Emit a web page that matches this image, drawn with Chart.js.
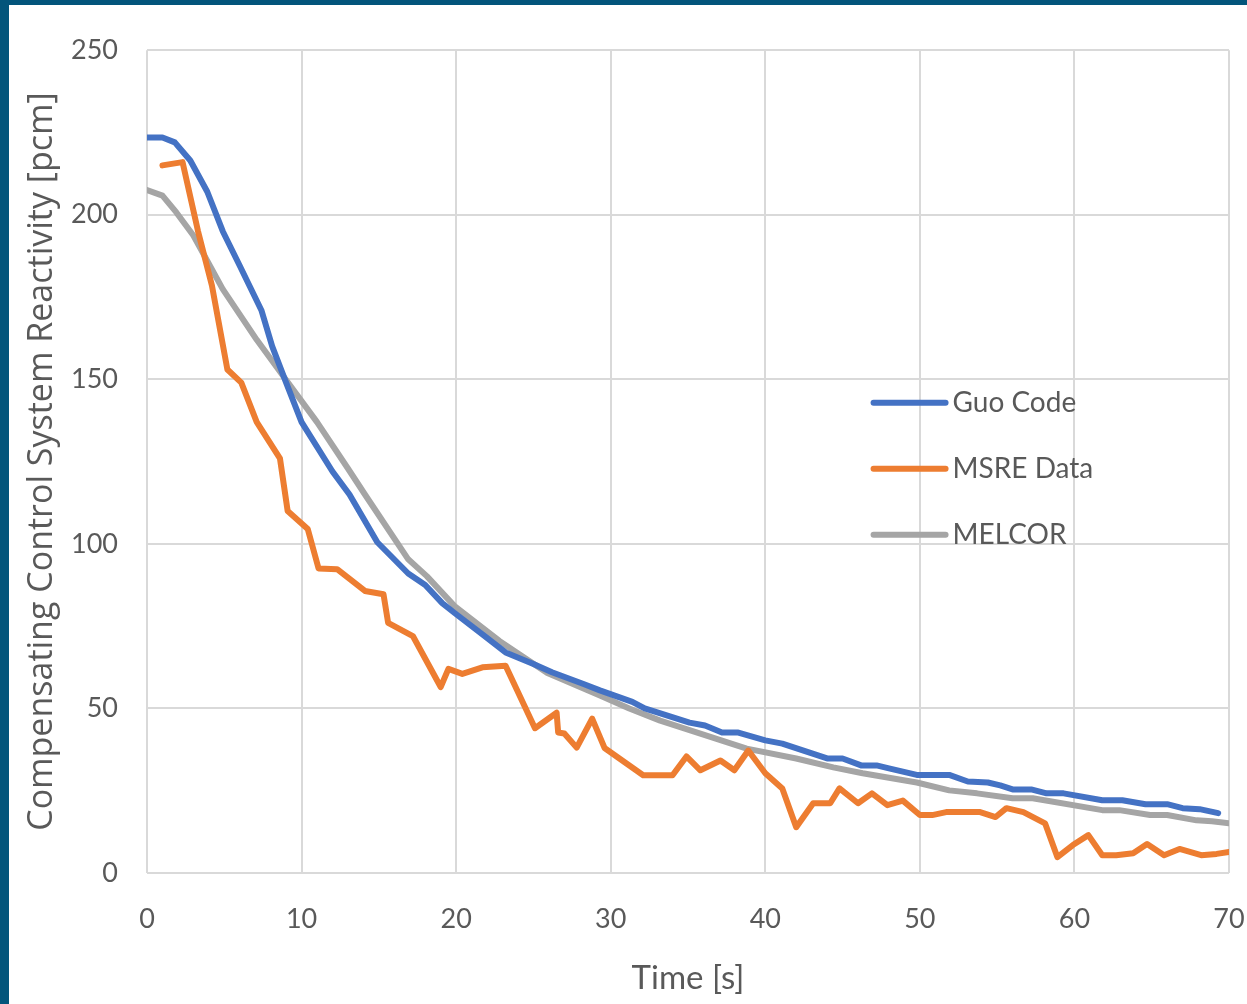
<!DOCTYPE html>
<html>
<head>
<meta charset="utf-8">
<script src="https://cdn.jsdelivr.net/npm/chart.js@4.4.0/dist/chart.umd.min.js"></script>
<style>
  html, body { margin: 0; padding: 0; background: #03557b; overflow: hidden; }
  #frame {
    position: absolute; left: 9px; top: 5px;
    width: 1238px; height: 999px; background: #ffffff; overflow: hidden;
  }
</style>
</head>
<body>
<div id="frame"><canvas id="reactChart" width="1268" height="999"></canvas></div>
<script>
// Compensating control system reactivity [pcm] vs time [s]
const guoTime = [0, 1, 1.8, 2.8, 3.9, 4.9, 6, 7.4, 8.1, 9, 10, 12, 13.1, 14.9, 16.9, 18, 19.1, 19.9, 21.7, 23.2, 25, 26.2, 28.2, 29.3, 31.4, 32.2, 35.1, 36.1, 37.2, 38.2, 40, 41.1, 44, 45, 46.2, 47.2, 48, 49.8, 51.9, 53.1, 54.4, 55.2, 56, 57.2, 58.2, 59.3, 61.8, 63.1, 64.6, 66, 67, 68.1, 69.3];
const guoValues = [223.5, 223.5, 222, 216.5, 207, 195, 184.5, 171, 160, 149, 137, 122, 115, 100.5, 91, 87.5, 82, 79, 72.5, 67, 63.5, 61, 57.5, 55.5, 52, 50, 45.7, 44.8, 42.7, 42.7, 40.3, 39.3, 34.8, 34.8, 32.7, 32.7, 31.8, 29.8, 29.8, 27.8, 27.5, 26.6, 25.4, 25.4, 24.2, 24.2, 22.1, 22.1, 20.9, 20.9, 19.7, 19.4, 18.2];

const msreTime = [1, 2.3, 3.3, 4.2, 5.2, 6.1, 7.1, 8.6, 9.1, 10.4, 11.1, 12.3, 14.1, 15.3, 15.6, 17.2, 19, 19.5, 20.4, 21.7, 23.2, 25.1, 26.5, 26.6, 27, 27.8, 28.8, 29.6, 32.1, 34, 34.9, 35.8, 37.1, 38, 38.9, 40, 41.1, 42, 43.1, 44.2, 44.8, 46, 46.9, 47.9, 48.9, 50, 50.8, 51.7, 53.9, 54.9, 55.6, 56.7, 58.1, 58.9, 59.9, 60.9, 61.8, 62.7, 63.8, 64.7, 65.8, 66.8, 68.2, 69.2, 70];
const msreValues = [215, 216, 195, 178.5, 153, 149, 137, 126, 110, 104.5, 92.5, 92.3, 85.7, 84.7, 76, 72, 56.5, 62, 60.5, 62.5, 63, 44, 48.7, 42.7, 42.4, 38.1, 46.9, 38, 29.7, 29.7, 35.4, 31.2, 34.2, 31.2, 37.2, 30.3, 25.7, 13.9, 21.2, 21.2, 25.7, 21.2, 24.2, 20.6, 22, 17.6, 17.6, 18.5, 18.5, 17, 19.7, 18.5, 15.1, 4.8, 8.5, 11.5, 5.4, 5.4, 6, 8.8, 5.4, 7.3, 5.4, 5.8, 6.4];

const melcorTime = [0, 1, 1.9, 3, 4.9, 7.1, 9, 11, 13, 14.1, 16.9, 18.1, 19.9, 22.8, 25.9, 29.3, 31.2, 33.2, 38.8, 42, 44.4, 46.3, 49.8, 51.9, 53.7, 56, 57.3, 61.8, 62.9, 64.9, 66, 67.9, 68.9, 70];
const melcorValues = [207.5, 205.8, 200.7, 193.7, 177.4, 162, 149.8, 137, 122.9, 115, 95.3, 90.2, 81.1, 70.5, 60.8, 53.9, 50, 46.3, 37.8, 34.8, 32.1, 30.3, 27.5, 25.1, 24.2, 22.7, 22.7, 19.1, 19.1, 17.6, 17.6, 16, 15.7, 15.1];

const seriesNames = ["Guo Code", "MSRE Data", "MELCOR"];
const seriesColors = ["#4472c4", "#ed7d31", "#a5a5a5"];
const xTicks = [0, 10, 20, 30, 40, 50, 60, 70];
const yTicks = [0, 50, 100, 150, 200, 250];

function toPoints(xs, ys) {
  return xs.map((x, i) => ({ x: x, y: ys[i] }));
}

const textColor = "#595959";
const gridColor = "#d9d9d9";

// legend drawn inside the plot area, like the Excel original
const insideLegend = {
  id: "insideLegend",
  afterDatasetsDraw(chart) {
    const { ctx, chartArea } = chart;
    const x0 = chartArea.left + chartArea.width * 0.6715;
    const lineLen = 72;
    const y0 = chartArea.top + chartArea.height * 0.4285;
    const gap = 66;
    ctx.save();
    ctx.font = "28px Lato";
    ctx.textBaseline = "middle";
    chart.data.datasets.forEach((ds, i) => {
      const y = y0 + i * gap;
      ctx.strokeStyle = ds.borderColor;
      ctx.lineWidth = 6;
      ctx.lineCap = "round";
      ctx.beginPath();
      ctx.moveTo(x0, y);
      ctx.lineTo(x0 + lineLen, y);
      ctx.stroke();
      ctx.fillStyle = textColor;
      ctx.fillText(ds.label, x0 + lineLen + 7, y);
    });
    ctx.restore();
  }
};

const ctx = document.getElementById("reactChart").getContext("2d");
const reactChart = new Chart(ctx, {
  type: "line",
  data: {
    datasets: [
      { label: seriesNames[0], data: toPoints(guoTime, guoValues), borderColor: seriesColors[0] },
      { label: seriesNames[1], data: toPoints(msreTime, msreValues), borderColor: seriesColors[1] },
      { label: seriesNames[2], data: toPoints(melcorTime, melcorValues), borderColor: seriesColors[2] }
    ]
  },
  options: {
    responsive: false,
    animation: false,
    layout: { padding: { top: 43, right: 48, bottom: 6, left: 0 } },
    elements: {
      point: { radius: 0 },
      line: { borderWidth: 6, tension: 0, borderJoinStyle: "round", borderCapStyle: "round", fill: false }
    },
    plugins: {
      legend: { display: false },
      tooltip: { enabled: false }
    },
    scales: {
      x: {
        type: "linear",
        min: 0,
        max: 70,
        afterBuildTicks: (axis) => { axis.ticks = xTicks.map(v => ({ value: v })); },
        afterFit: (axis) => { axis.height = 125; },
        grid: { color: gridColor, lineWidth: 2, drawTicks: false },
        border: { display: false },
        ticks: { color: textColor, font: { family: "Lato", size: 27 }, padding: 30, maxRotation: 0 },
        title: { display: true, text: "Time [s]", color: textColor, font: { family: "Lato", size: 33 }, padding: 0 }
      },
      y: {
        min: 0,
        max: 250,
        afterBuildTicks: (axis) => { axis.ticks = yTicks.map(v => ({ value: v })); },
        afterFit: (axis) => { axis.width = 138; },
        grid: { color: gridColor, lineWidth: 2, drawTicks: false },
        border: { display: false },
        ticks: { color: textColor, font: { family: "Lato", size: 27 }, padding: 29 },
        title: { display: true, text: "Compensating Control System Reactivity [pcm]", color: textColor, font: { family: "Open Sans", size: 34 }, padding: { top: 13, bottom: 0 } }
      }
    }
  },
  plugins: [insideLegend]
});
</script>
</body>
</html>
